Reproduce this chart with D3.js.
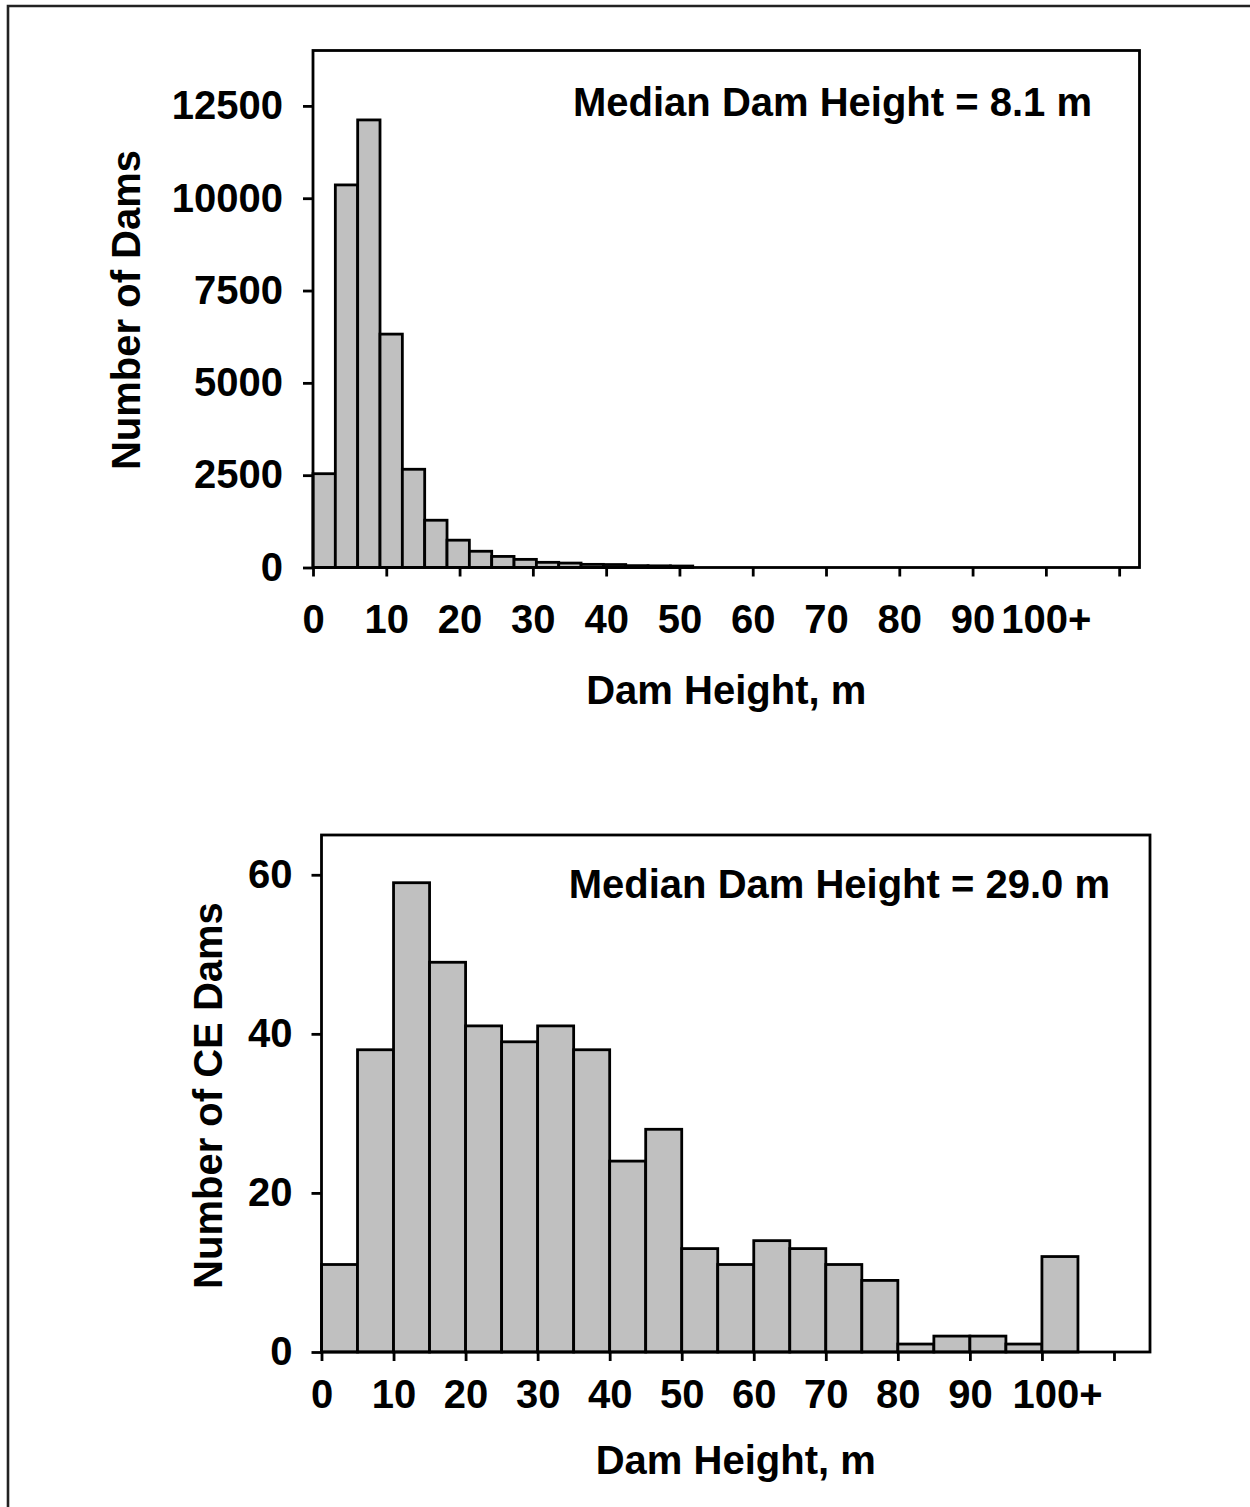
<!DOCTYPE html>
<html>
<head>
<meta charset="utf-8">
<script src="https://cdn.jsdelivr.net/npm/d3@7"></script>
<style>
  html, body { margin: 0; padding: 0; background: #fff; }
  svg { display: block; }
  text { font-family: "Liberation Sans", Arial, Helvetica, sans-serif; font-weight: bold; fill: #000; }
</style>
</head>
<body>
<svg id="chart" width="1250" height="1507"></svg>
<script>
// ---------- DATA ----------
// Top panel: all dams, 10-ft bins (bin starts in feet), counts
const topBinStartFt = [0, 10, 20, 30, 40, 50, 60, 70, 80, 90, 100, 110, 120, 130, 140, 150, 160];
const topBinWidthFt = 10;
const topCounts = [2540, 10360, 12120, 6320, 2660, 1280, 740, 440, 300, 220, 140, 120, 85, 80, 50, 45, 40];
const topYTicks = [0, 2500, 5000, 7500, 10000, 12500];
const topXTicks = [0, 10, 20, 30, 40, 50, 60, 70, 80, 90, 100, 110];
const topXTickLabels = ["0", "10", "20", "30", "40", "50", "60", "70", "80", "90", "100+", ""];
const topMedianLabel = "Median Dam Height = 8.1 m";

// Bottom panel: CE dams, 5-m bins (bin starts in m), counts
const botBinStart = [0, 5, 10, 15, 20, 25, 30, 35, 40, 45, 50, 55, 60, 65, 70, 75, 80, 85, 90, 95, 100];
const botBinWidth = 5;
const botCounts = [11, 38, 59, 49, 41, 39, 41, 38, 24, 28, 13, 11, 14, 13, 11, 9, 1, 2, 2, 1, 12];
const botYTicks = [0, 20, 40, 60];
const botXTicks = [0, 10, 20, 30, 40, 50, 60, 70, 80, 90, 100, 110];
const botXTickLabels = ["0", "10", "20", "30", "40", "50", "60", "70", "80", "90", "100+", ""];
const botMedianLabel = "Median Dam Height = 29.0 m";

const xTitle = "Dam Height, m";
const topYTitle = "Number of Dams";
const botYTitle = "Number of CE Dams";

// ---------- DRAW ----------
const FT = 0.3048;
const svg = d3.select("#chart");
const FS = 40;
const SW = 2.8;

// outer frame (left + top)
svg.append("path")
  .attr("d", "M8,1507 L8,6 L1250,6")
  .attr("fill", "none").attr("stroke", "#222").attr("stroke-width", 2.6);

function panel(cfg) {
  const g = svg.append("g");
  const x = d3.scaleLinear().domain(cfg.xDomain).range([cfg.left, cfg.right]);
  const y = d3.scaleLinear().domain(cfg.yDomain).range([cfg.bottom, cfg.top]);

  // bars
  g.append("g").selectAll("rect")
    .data(cfg.bins)
    .join("rect")
    .attr("x", d => x(d.x0))
    .attr("width", d => x(d.x1) - x(d.x0))
    .attr("y", d => y(d.v))
    .attr("height", d => y(0) - y(d.v))
    .attr("fill", "#c0c0c0")
    .attr("stroke", "#000")
    .attr("stroke-width", SW);

  // plot box
  g.append("rect")
    .attr("x", cfg.left).attr("y", cfg.top)
    .attr("width", cfg.right - cfg.left).attr("height", cfg.bottom - cfg.top)
    .attr("fill", "none").attr("stroke", "#000").attr("stroke-width", SW);

  // y axis
  const ya = g.append("g")
    .attr("transform", `translate(${cfg.left},0)`)
    .call(d3.axisLeft(y).tickValues(cfg.yTicks).tickSize(10).tickSizeOuter(0).tickPadding(cfg.yPad).tickFormat(d3.format("d")));
  ya.select(".domain").remove();
  ya.selectAll(".tick line").attr("stroke", "#000").attr("stroke-width", SW);
  ya.selectAll(".tick text").attr("font-size", FS).attr("font-family", null).attr("fill", "#000");

  // x axis
  const xa = g.append("g")
    .attr("transform", `translate(0,${cfg.bottom})`)
    .call(d3.axisBottom(x).tickValues(cfg.xTicks).tickSize(9).tickSizeOuter(0).tickPadding(cfg.xPad)
      .tickFormat((d, i) => cfg.xLabels[i]));
  xa.select(".domain").remove();
  xa.selectAll(".tick line").attr("stroke", "#000").attr("stroke-width", SW);
  xa.selectAll(".tick text").attr("font-size", FS).attr("font-family", null).attr("fill", "#000")
    .attr("dx", (d, i) => cfg.xLabels[i] === "100+" ? cfg.plusDx : 0);

  // median label
  g.append("text")
    .attr("x", cfg.medX).attr("y", cfg.medY)
    .attr("text-anchor", "end").attr("font-size", FS)
    .text(cfg.median);

  // x title
  g.append("text")
    .attr("x", (cfg.left + cfg.right) / 2).attr("y", cfg.xTitleY)
    .attr("text-anchor", "middle").attr("font-size", FS)
    .text(xTitle);

  // y title
  g.append("text")
    .attr("transform", `translate(${cfg.yTitleX},${(cfg.top + cfg.bottom) / 2 + cfg.yTitleDy}) rotate(-90)`)
    .attr("text-anchor", "middle").attr("font-size", FS)
    .text(cfg.yTitle);
}

panel({
  left: 313, right: 1139.5, top: 50.5, bottom: 567.5,
  xDomain: [0, 370 * FT], yDomain: [0, 14000],
  bins: topBinStartFt.map((s, i) => ({ x0: s * FT, x1: (s + topBinWidthFt) * FT, v: topCounts[i] })),
  yTicks: topYTicks, xTicks: topXTicks, xLabels: topXTickLabels,
  yPad: 20, xPad: 28, plusDx: 0,
  median: topMedianLabel, medX: 1092, medY: 116,
  xTitleY: 704, yTitle: topYTitle, yTitleX: 139.5, yTitleDy: 1
});

panel({
  left: 321.5, right: 1150, top: 835, bottom: 1352,
  xDomain: [0, 115], yDomain: [0, 65],
  bins: botBinStart.map((s, i) => ({ x0: s, x1: s + botBinWidth, v: botCounts[i] })),
  yTicks: botYTicks, xTicks: botXTicks, xLabels: botXTickLabels,
  yPad: 19, xPad: 19, plusDx: 15,
  median: botMedianLabel, medX: 1110, medY: 898,
  xTitleY: 1474, yTitle: botYTitle, yTitleX: 221.5, yTitleDy: 2
});
</script>
</body>
</html>
